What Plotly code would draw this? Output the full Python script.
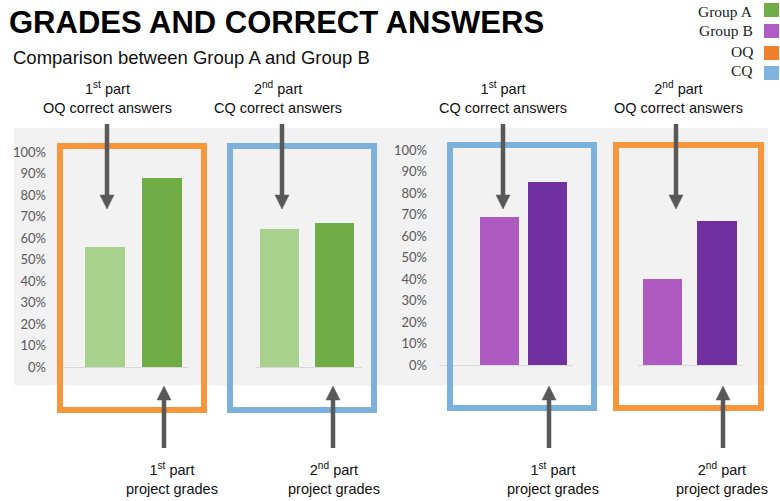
import plotly.graph_objects as go

W, H = 780, 501

# ---------------- data ----------------
bar_labels = ["correct answers", "project grades"]
group_a_part1_oq = [56, 88]   # 1st part: OQ correct answers, project grades
group_a_part2_cq = [64, 67]   # 2nd part: CQ correct answers, project grades
group_b_part1_cq = [69, 85]   # 1st part: CQ correct answers, project grades
group_b_part2_oq = [40, 67]   # 2nd part: OQ correct answers, project grades
y_ticks = [0, 10, 20, 30, 40, 50, 60, 70, 80, 90, 100]

# ---------------- styles ----------------
A_LIGHT, A_DARK = "#A9D18E", "#70AD47"
B_LIGHT, B_DARK = "#AE5AC0", "#7030A0"
ORANGE, BLUE = "#F7963A", "#7BB1DA"
LEG_ORANGE, LEG_BLUE = "#F07F2C", "#7FB3DE"
ARROW = "#595959"
PANEL = "#F2F2F2"
TXT = "Liberation Sans, Arial, sans-serif"


def px(x):
    return x / W


def py(y):
    return 1 - y / H


fig = go.Figure()

# chart layout specs: (bar center 0, bar center 1, axis-line start, axis-line end, bar width) in px
charts = [
    dict(vals=group_a_part1_oq, cols=[A_LIGHT, A_DARK], c=(105, 161.5), l=(63, 188), w=40),
    dict(vals=group_a_part2_cq, cols=[A_LIGHT, A_DARK], c=(279.5, 334.5), l=(256, 362), w=39),
    dict(vals=group_b_part1_cq, cols=[B_LIGHT, B_DARK], c=(499.5, 547.5), l=(439, 573), w=39.5),
    dict(vals=group_b_part2_oq, cols=[B_LIGHT, B_DARK], c=(662.5, 717), l=(638, 743), w=39.5),
]

layout_axes = {}
for i, ch in enumerate(charts):
    n = i + 1
    xname = "x" if n == 1 else f"x{n}"
    yname = "y" if n == 1 else f"y{n}"
    unit = ch["c"][1] - ch["c"][0]
    fig.add_trace(go.Bar(
        x=[0, 1], y=[v / 100 for v in ch["vals"]],
        marker=dict(color=ch["cols"], line=dict(width=0)),
        width=ch["w"] / unit,
        xaxis=xname, yaxis=yname, showlegend=False,
        hovertext=bar_labels, hoverinfo="text+y",
    ))
    layout_axes["xaxis" if n == 1 else f"xaxis{n}"] = dict(
        domain=[px(ch["l"][0]), px(ch["l"][1])],
        range=[(ch["l"][0] - ch["c"][0]) / unit, (ch["l"][1] - ch["c"][0]) / unit],
        showticklabels=False, showgrid=False, zeroline=False,
        showline=True, linecolor="#D9D9D9", linewidth=1,
        anchor=yname, fixedrange=True,
    )

left_dom = [py(367), py(152)]
right_dom = [py(365), py(150)]
tick_font = dict(family="Lato, sans-serif", size=13, color="#595959")
tickvals = [t / 100 for t in y_ticks]
ticktext = [f"{t}%" for t in y_ticks]
for n, dom, show, pos in [(1, left_dom, True, 46), (2, left_dom, False, 0),
                          (3, right_dom, True, 427), (4, right_dom, False, 0)]:
    ax = dict(domain=dom, range=[0, 1], showgrid=False, zeroline=False,
              showline=False, fixedrange=True, automargin=False,
              tickvals=tickvals, ticktext=ticktext, tickfont=tick_font,
              showticklabels=show, ticks="")
    if show:
        ax.update(anchor="free", position=px(pos))
    else:
        ax.update(anchor="x" if n == 1 else f"x{n}")
    layout_axes["yaxis" if n == 1 else f"yaxis{n}"] = ax

shapes = []
# gray panel
shapes.append(dict(type="rect", xref="paper", yref="paper", layer="below",
                   x0=px(14), x1=px(768), y0=py(385), y1=py(128),
                   fillcolor=PANEL, line=dict(width=0)))
# frames
for (x0, x1, y0, y1, col) in [(60, 204, 146, 410, ORANGE), (230, 374, 146, 410, BLUE),
                              (450, 594, 145, 408, BLUE), (616, 761, 145, 408, ORANGE)]:
    shapes.append(dict(type="rect", xref="paper", yref="paper",
                       x0=px(x0), x1=px(x1), y0=py(y1), y1=py(y0),
                       line=dict(color=col, width=6), fillcolor="rgba(0,0,0,0)"))


def arrow(x, y_from, y_tip):
    d = 1 if y_tip > y_from else -1
    head = 14
    base = y_tip - d * head
    shapes.append(dict(type="line", xref="paper", yref="paper",
                       x0=px(x), x1=px(x), y0=py(y_from), y1=py(base),
                       line=dict(color=ARROW, width=4.5)))
    path = (f"M {px(x - 7)},{py(base)} L {px(x + 7)},{py(base)} "
            f"L {px(x)},{py(y_tip)} Z")
    shapes.append(dict(type="path", xref="paper", yref="paper", path=path,
                       fillcolor=ARROW, line=dict(color=ARROW, width=0.5)))


for x in [107, 282, 503, 676]:
    arrow(x, 124, 209)
for x in [164, 333, 549, 723]:
    arrow(x, 448, 386)

# legend squares
for y0, col in [(3, A_DARK), (24, "#B05CC4"), (46, LEG_ORANGE), (66, LEG_BLUE)]:
    shapes.append(dict(type="rect", xref="paper", yref="paper",
                       x0=px(764), x1=px(779), y0=py(y0 + 14), y1=py(y0),
                       fillcolor=col, line=dict(width=0)))

annotations = []


def text(x, y, s, size, anchor="center", family=TXT, color="#111111"):
    annotations.append(dict(x=px(x), y=py(y), xref="paper", yref="paper",
                            text=s, showarrow=False, xanchor=anchor, yanchor="middle",
                            align=anchor if anchor != "center" else "center",
                            font=dict(family=family, size=size, color=color)))


text(7, 23, "<b>GRADES AND CORRECT ANSWERS</b>", 31, anchor="left", color="#000000")
text(11, 57, "Comparison between Group A and Group B", 18.5, anchor="left", color="#111111")

top_labels = [(107, "1<sup>st</sup> part<br>OQ correct answers"),
              (278, "2<sup>nd</sup> part<br>CQ correct answers"),
              (503, "1<sup>st</sup> part<br>CQ correct answers"),
              (678, "2<sup>nd</sup> part<br>OQ correct answers")]
for x, s in top_labels:
    text(x, 97.5, s, 14.5)
bottom_labels = [(172, "1<sup>st</sup> part<br>project grades"),
                 (334, "2<sup>nd</sup> part<br>project grades"),
                 (553, "1<sup>st</sup> part<br>project grades"),
                 (722, "2<sup>nd</sup> part<br>project grades")]
for x, s in bottom_labels:
    text(x, 478.5, s, 14.5)

SERIF = "Liberation Serif, Times New Roman, serif"
for y, s in [(12, "Group A"), (31, "Group B"), (52, "OQ"), (71, "CQ")]:
    text(755, y, s, 15.5, anchor="right", family=SERIF, color="#222222")

fig.update_layout(
    width=W, height=H, margin=dict(l=0, r=0, t=0, b=0, pad=0),
    paper_bgcolor="white", plot_bgcolor="rgba(0,0,0,0)",
    shapes=shapes, annotations=annotations, showlegend=False,
    bargap=0, **layout_axes,
)

fig.write_html("out.html")
